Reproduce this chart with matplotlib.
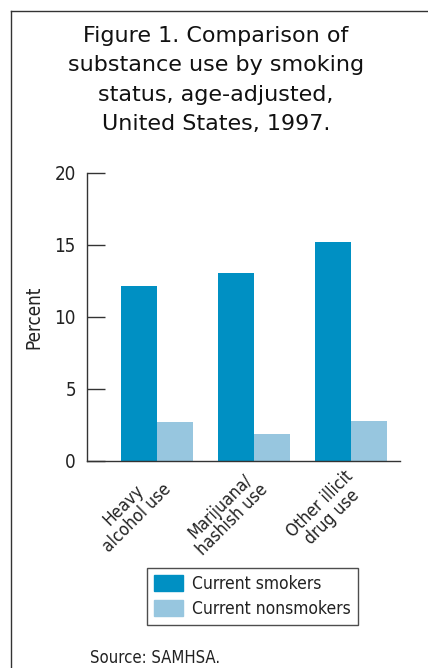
import matplotlib
matplotlib.use("Agg")
import matplotlib.pyplot as plt
from matplotlib.patches import Patch
from matplotlib.lines import Line2D
from matplotlib.font_manager import FontProperties
import numpy as np

categories = ["Heavy\nalcohol use", "Marijuana/\nhashish use", "Other illicit\ndrug use"]
smokers = [12.15, 13.05, 15.2]
nonsmokers = [2.7, 1.85, 2.75]
series_names = ["Current smokers", "Current nonsmokers"]
yticks = [0, 5, 10, 15, 20]

dark_blue = "#0090C3"
light_blue = "#97C6DF"
ink = "#222222"


def narrow(size):
    return FontProperties(family="DejaVu Sans", stretch="condensed", size=size)


W, H = 428, 668
fig = plt.figure(figsize=(W / 100, H / 100), dpi=100)

# frame lines (top and left)
fig.add_artist(Line2D([11 / W, 1.0], [1 - 11 / H, 1 - 11 / H], color="#333333", lw=1.0))
fig.add_artist(Line2D([11 / W, 11 / W], [1 - 11 / H, 0.0], color="#333333", lw=1.0))

title = "Figure 1. Comparison of\nsubstance use by smoking\nstatus, age-adjusted,\nUnited States, 1997."
fig.text(216 / W, 1 - 26 / H, title, ha="center", va="top", fontsize=16,
         family="DejaVu Sans", color="#111111", linespacing=1.58)

ax = fig.add_axes([87 / W, 1 - 461 / H, (400 - 87) / W, (461 - 173) / H])
x = np.arange(len(categories))
w = 0.37
ax.bar(x - w / 2, smokers, width=w, color=dark_blue, label=series_names[0])
ax.bar(x + w / 2, nonsmokers, width=w, color=light_blue, label=series_names[1])

ax.set_xlim(-0.72, 2.5)
ax.set_ylim(0, 20)
ax.set_yticks(yticks)
ax.set_yticklabels([str(v) for v in yticks], fontproperties=narrow(13.5), color=ink)
ax.tick_params(axis="y", direction="in", length=13, width=1.0, color="#333333", pad=8)
ax.set_xticks([])
for s in ["top", "right"]:
    ax.spines[s].set_visible(False)
for s in ["left", "bottom"]:
    ax.spines[s].set_color("#333333")
    ax.spines[s].set_linewidth(1.0)
ax.set_ylabel("Percent", fontproperties=narrow(13.5), color=ink, labelpad=8)

# rotated category labels, bounding box top-right hung just below each group
for xi, lab in zip(x, categories):
    ax.text(xi + 0.18, -0.45, lab, ha="right", va="top", rotation=45,
            multialignment="center",
            fontproperties=narrow(12.5), color=ink, linespacing=1.0)

handles = [Patch(color=dark_blue), Patch(color=light_blue)]
leg = fig.legend(handles, series_names, loc="upper left",
                 bbox_to_anchor=(147 / W, 1 - 568 / H), frameon=True,
                 prop=narrow(12.5), handlelength=1.65,
                 handleheight=1.0, handletextpad=0.55, borderpad=0.4,
                 labelspacing=0.4, fancybox=False, borderaxespad=0)
leg.get_frame().set_edgecolor("#222222")
leg.get_frame().set_linewidth(1.0)
for t in leg.get_texts():
    t.set_color(ink)

fig.text(90 / W, 1 - 658 / H, "Source: SAMHSA.", ha="left", va="center",
         fontproperties=narrow(12), color=ink)

fig.savefig("out.png", dpi=100)
